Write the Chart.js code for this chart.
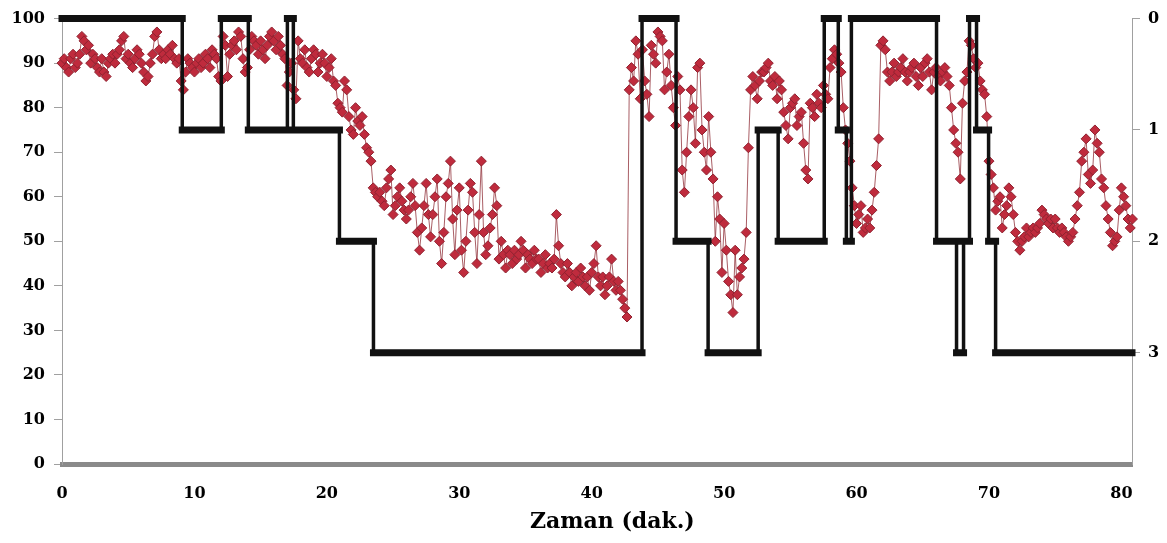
<!DOCTYPE html>
<html>
<head>
<meta charset="utf-8">
<script src="https://cdn.jsdelivr.net/npm/chart.js@4.4.1/dist/chart.umd.min.js"></script>
<style>
  html, body { margin: 0; padding: 0; background: #fff; }
  #wrap { width: 1167px; height: 543px; }
</style>
</head>
<body>
<div id="wrap"><canvas id="chart" width="1167" height="543"></canvas></div>
<script>
// red series, one reading every 10 s (6 per row = 1 minute)
const sampleStep = 1 / 6;
const redValues = [
  90, 91, 89, 88, 91, 92,   89, 90, 92, 96, 95, 93,   94, 90, 92, 91, 89, 88,
  91, 88, 87, 90, 91, 92,   90, 92, 93, 95, 96, 91,   92, 90, 89, 91, 93, 92,
  90, 88, 86, 87, 90, 92,   96, 97, 93, 91, 92, 91,   93, 92, 94, 91, 90, 91,
  86, 84, 88, 91, 90, 89,   88, 90, 91, 89, 90, 92,   91, 89, 93, 92, 91, 87,
  86, 96, 94, 87, 92, 94,   95, 93, 97, 96, 91, 88,   89, 93, 96, 95, 94, 92,
  95, 93, 91, 94, 96, 97,   95, 93, 96, 94, 92, 91,   85, 88, 90, 84, 82, 95,
  91, 90, 93, 89, 88, 91,   93, 92, 88, 90, 92, 90,   87, 89, 91, 86, 85, 81,
  80, 79, 86, 84, 78, 75,   74, 80, 77, 76, 78, 74,   71, 70, 68, 62, 61, 60,
  61, 59, 58, 62, 64, 66,   56, 58, 60, 62, 59, 57,   55, 57, 60, 63, 58, 52,
  48, 53, 58, 63, 56, 51,   56, 60, 64, 50, 45, 52,   60, 63, 68, 55, 47, 57,
  62, 48, 43, 50, 57, 63,   61, 52, 45, 56, 68, 52,   47, 49, 53, 56, 62, 58,
  46, 50, 47, 44, 48, 47,   45, 48, 46, 47, 50, 48,   44, 47, 46, 45, 48, 46,
  46, 43, 45, 47, 44, 45,   44, 46, 56, 49, 45, 43,   42, 45, 43, 40, 42, 43,
  41, 44, 42, 40, 42, 39,   43, 45, 49, 42, 40, 42,   38, 40, 42, 46, 41, 39,
  41, 39, 37, 35, 33, 84,   89, 86, 95, 92, 82, 93,   86, 83, 78, 94, 92, 90,
  97, 96, 95, 84, 88, 92,   85, 80, 76, 87, 84, 66,   61, 70, 78, 84, 80, 72,
  89, 90, 75, 70, 66, 78,   70, 64, 50, 60, 55, 43,   54, 48, 41, 38, 34, 48,
  38, 42, 44, 46, 52, 71,   84, 87, 85, 82, 86, 88,   88, 89, 90, 86, 85, 87,
  82, 86, 84, 79, 76, 73,   80, 81, 82, 76, 78, 79,   72, 66, 64, 81, 80, 78,
  83, 81, 80, 85, 83, 82,   89, 91, 93, 92, 90, 88,   80, 75, 72, 68, 62, 58,
  54, 56, 58, 52, 53, 55,   53, 57, 61, 67, 73, 94,   95, 93, 88, 86, 88, 90,
  87, 88, 89, 91, 88, 86,   88, 89, 90, 87, 85, 89,   87, 90, 91, 88, 84, 88,
  89, 87, 86, 88, 89, 87,   85, 80, 75, 72, 70, 64,   81, 86, 88, 95, 94, 91,
  89, 90, 86, 84, 83, 78,   68, 65, 62, 57, 59, 60,   53, 56, 58, 62, 60, 56,
  52, 50, 48, 50, 51, 53,   51, 52, 53, 52, 53, 54,   57, 56, 55, 54, 55, 53,
  55, 53, 52, 53, 52, 51,   50, 51, 52, 55, 58, 61,   68, 70, 73, 65, 63, 66,
  75, 72, 70, 64, 62, 58,   55, 52, 49, 50, 51, 57,   62, 60, 58, 55, 53, 55
];

// black step series: minute where each level starts, and the level (right axis)
const stageStart = [0, 9.08, 12.03, 14.07, 17.02, 17.47, 20.95, 23.52, 43.8, 46.37, 48.79, 52.57,
  54.08, 57.56, 58.62, 59.23, 59.61, 66.04, 67.55, 68.08, 68.53, 69.06, 69.97, 70.5];
const stageLevel = [0, 1, 0, 1, 0, 1, 2, 3, 0, 2, 3, 1,
  2, 0, 1, 2, 0, 2, 3, 2, 0, 1, 2, 3];
const stageEnd = 80.8;

const xTickValues = [0, 10, 20, 30, 40, 50, 60, 70, 80];
const leftTickValues = [0, 10, 20, 30, 40, 50, 60, 70, 80, 90, 100];
const rightTickValues = [0, 1, 2, 3];

const redPoints = redValues.map((v, i) => ({ x: i * sampleStep, y: v }));

const stepPoints = stageStart.map((t, i) => ({ x: t, y: stageLevel[i] }));
stepPoints.push({ x: stageEnd, y: stageLevel[stageLevel.length - 1] });

// thick horizontal pieces of the step line
const barPoints = [];
stageStart.forEach((t, i) => {
  const end = i < stageStart.length - 1 ? stageStart[i + 1] : stageEnd;
  barPoints.push({ x: t, y: stageLevel[i] }, { x: end, y: stageLevel[i] }, { x: end, y: null });
});

const tickFont = { family: "DejaVu Serif", weight: "bold", size: 16 };

new Chart(document.getElementById("chart"), {
  type: "scatter",
  data: {
    datasets: [
      {
        data: barPoints,
        yAxisID: "y2",
        showLine: true,
        spanGaps: false,
        borderColor: "#111",
        borderWidth: 7,
        borderCapStyle: "square",
        pointRadius: 0,
        clip: false,
      },
      {
        data: stepPoints,
        yAxisID: "y2",
        showLine: true,
        stepped: "before",
        borderColor: "#111",
        borderWidth: 3.5,
        pointRadius: 0,
        clip: false,
      },
      {
        data: redPoints,
        yAxisID: "y",
        showLine: true,
        borderColor: "rgba(140, 40, 50, 0.75)",
        borderWidth: 1,
        pointStyle: "rectRot",
        pointRadius: 5,
        pointBackgroundColor: "#bf2b3d",
        pointBorderColor: "#8f2230",
        pointBorderWidth: 1,
        clip: false,
      },
    ],
  },
  options: {
    responsive: false,
    animation: false,
    layout: { padding: { top: 8, left: 0, right: 0, bottom: 8 } },
    plugins: { legend: { display: false }, tooltip: { enabled: false } },
    scales: {
      x: {
        type: "linear",
        min: 0,
        max: 80.8,
        afterFit: (s) => { s.height = 71; },
        afterBuildTicks: (s) => { s.ticks = xTickValues.map((v) => ({ value: v })); },
        ticks: { color: "#000", font: tickFont, padding: 20, maxRotation: 0 },
        grid: { display: false, drawTicks: false },
        border: { color: "#8a8a8a", width: 5 },
        title: {
          display: true,
          text: "    Zaman (dak.)",
          color: "#000",
          font: { family: "DejaVu Serif", weight: "bold", size: 22 },
          padding: { top: 0, bottom: 0 },
        },
      },
      y: {
        position: "left",
        min: 0,
        max: 100,
        afterFit: (s) => { s.width = 62; },
        afterBuildTicks: (s) => { s.ticks = leftTickValues.map((v) => ({ value: v })); },
        ticks: { color: "#000", font: tickFont, padding: 9 },
        grid: { drawOnChartArea: false, tickLength: 8, color: "#a0a0a0" },
        border: { color: "#a0a0a0" },
      },
      y2: {
        position: "right",
        reverse: true,
        min: 0,
        max: 4,
        afterFit: (s) => { s.width = 35; },
        afterBuildTicks: (s) => { s.ticks = rightTickValues.map((v) => ({ value: v })); },
        ticks: { color: "#000", font: tickFont, padding: 8 },
        grid: { drawOnChartArea: false, tickLength: 8, color: "#a0a0a0" },
        border: { color: "#a0a0a0" },
      },
    },
  },
});
</script>
</body>
</html>
